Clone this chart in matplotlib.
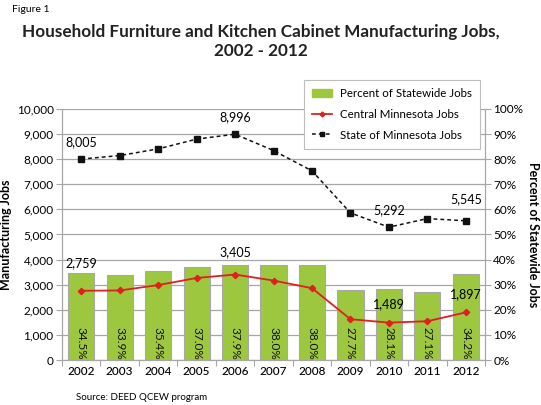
import matplotlib
matplotlib.use("Agg")
import matplotlib.pyplot as plt
from matplotlib.lines import Line2D
from matplotlib.patches import Patch

plt.rcParams['font.family'] = ['Lato', 'DejaVu Sans']

# data
years = ['2002', '2003', '2004', '2005', '2006', '2007', '2008', '2009', '2010', '2011', '2012']
pct_statewide = [34.5, 33.9, 35.4, 37.0, 37.9, 38.0, 38.0, 27.7, 28.1, 27.1, 34.2]
central_jobs = [2759, 2770, 2985, 3268, 3405, 3165, 2862, 1625, 1489, 1545, 1897]
state_jobs = [8005, 8145, 8410, 8800, 8996, 8345, 7535, 5860, 5292, 5635, 5545]

# labelled points: index -> offset px above point
central_labels = {0: 22, 4: 16, 8: 12, 10: 12}
state_labels = {0: 11, 4: 11, 8: 11, 10: 16}

green = '#9dc73f'
red = '#e0201f'
grid_c = '#a6a6a6'

fig = plt.figure(figsize=(5.41, 4.05), dpi=100)
ax2 = fig.add_axes([0.1146, 0.1111, 0.782, 0.6198])
ax = ax2.twinx()
ax.set_zorder(ax2.get_zorder() + 1)
ax.patch.set_visible(False)

x = list(range(len(years)))

# bars on the percent axis
ax2.bar(x, pct_statewide, width=0.68, color=green, edgecolor='#a8a8a8', linewidth=0.8, zorder=2)
ax2.set_ylim(0, 100)
ax2.set_yticks(range(0, 101, 10))
ax2.set_yticklabels([f'{v}%' for v in range(0, 101, 10)])
ax2.yaxis.tick_right()
ax2.yaxis.set_label_position('right')
ax2.grid(axis='y', color=grid_c, linewidth=0.9)
ax2.set_axisbelow(True)
for i, p in enumerate(pct_statewide):
    ax2.text(i, 13.3, f'{p:.1f}%', rotation=-90, ha='center', va='top', fontsize=8.5, color='#111111', zorder=3)

# lines on the jobs axis
ax.plot(x, central_jobs, color=red, linewidth=1.3, marker='D', markersize=3.2, zorder=4)
ax.plot(x, state_jobs, color='#111111', linewidth=1.1, linestyle=(0, (2.5, 2)), marker='s',
        markersize=5, zorder=4)
ax.set_ylim(0, 10000)
ax.set_yticks(range(0, 10001, 1000))
ax.set_yticklabels([f'{v:,}' for v in range(0, 10001, 1000)])
ax.yaxis.tick_left()
ax.yaxis.set_label_position('left')

for i, off in central_labels.items():
    ax.annotate(f'{central_jobs[i]:,}', (i, central_jobs[i]), xytext=(0, off * 0.72),
                textcoords='offset points', ha='center', va='bottom', fontsize=9)
for i, off in state_labels.items():
    ax.annotate(f'{state_jobs[i]:,}', (i, state_jobs[i]), xytext=(0, off * 0.72),
                textcoords='offset points', ha='center', va='bottom', fontsize=9)

ax.set_xlim(-0.5, len(years) - 0.5)
ax2.set_xticks([i + 0.5 for i in range(-1, len(years))])
ax2.set_xticklabels([])
ax2.set_xticks(x, minor=True)
ax2.set_xticklabels(years, minor=True, fontsize=8.5, fontweight='medium')
ax2.tick_params(axis='x', which='minor', length=0, pad=4)
ax2.tick_params(axis='x', which='major', length=4, color=grid_c)
ax.tick_params(axis='x', which='both', length=0, labelbottom=False)

ax.tick_params(axis='y', length=4, color=grid_c, labelsize=8.5, pad=2)
ax2.tick_params(axis='y', length=4, color=grid_c, labelsize=8.5, pad=2)

for a in (ax, ax2):
    for s in a.spines.values():
        s.set_color(grid_c)
    a.spines['top'].set_visible(False)

ax.set_ylabel('Manufacturing Jobs', fontsize=9, fontweight='bold', labelpad=3)
ax2.set_ylabel('Percent of Statewide Jobs', fontsize=9, fontweight='bold', rotation=270, labelpad=11)

fig.text(0.022, 0.988, 'Figure 1', fontsize=7.5, va='top', ha='left')
fig.text(0.482, 0.8975, 'Household Furniture and Kitchen Cabinet Manufacturing Jobs,\n2002 - 2012',
         fontsize=12.3, fontweight='bold', ha='center', va='center', linespacing=1.3, color='#222222')
fig.text(0.14, 0.008, 'Source: DEED QCEW program', fontsize=7, ha='left', va='bottom')

handles = [Patch(facecolor=green, edgecolor=green),
           Line2D([], [], color=red, linewidth=1.3, marker='D', markersize=2.5),
           Line2D([], [], color='#111111', linewidth=1.1, linestyle=(0, (2.5, 2)), marker='s', markersize=3.5)]
labels = ['Percent of Statewide Jobs', 'Central Minnesota Jobs', 'State of Minnesota Jobs']
leg = fig.legend(handles, labels, loc='upper left', bbox_to_anchor=(0.562, 0.8025), fontsize=8.3,
                 frameon=True, fancybox=False, edgecolor='#bdbdbd', framealpha=1, borderaxespad=0,
                 handlelength=1.7, handleheight=0.8, handletextpad=0.7, labelspacing=0.85, borderpad=0.7)
leg.get_frame().set_linewidth(0.8)

fig.savefig('out.png', dpi=100)
